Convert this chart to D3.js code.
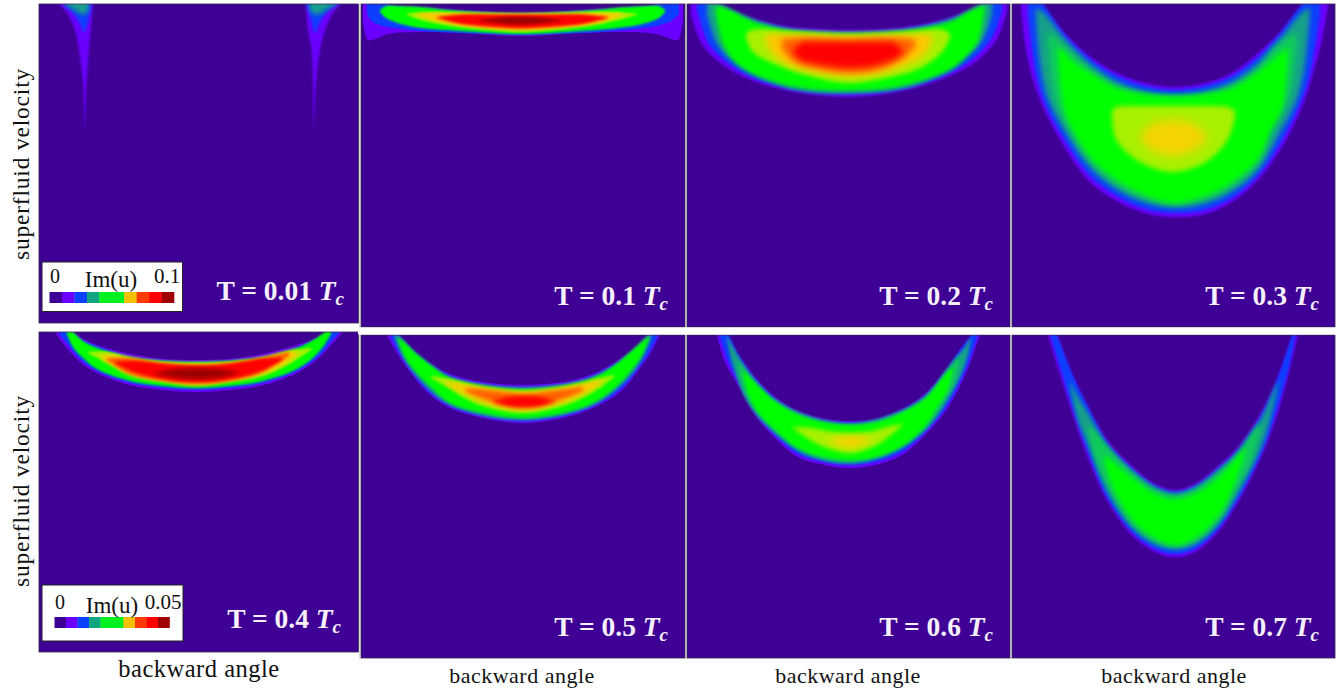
<!DOCTYPE html>
<html lang="en">
<head>
    <meta charset="UTF-8">
    <title>Im(u) maps</title>
    <script src="https://d3js.org/d3.v7.min.js"></script>
    <style>
        html, body { margin: 0; padding: 0; background: #fff; }
        text { font-family: "Liberation Serif", serif; }
    </style>
</head>
<body>
<svg id="main" width="1341" height="690"></svg>
<script>
    // contour rows are [angle, upper velocity, lower velocity], in grid cells of the panel
    const t001Violet = [[19,-8,-1],[28,-8,9],[36,-8,26],[40,-8,46],[44,-8,79],[46,-8,124],[47.5,-8,79],[50,-8,46],[52,-8,23],[54,-8,1]];
    const t001VioletR = [[267,-8,6],[269,-8,26],[272.5,-8,46],[274,-8,79],[275,-8,124],[277,-8,79],[281,-8,46],[286,-8,26],[294,-8,9],[301,-8,1]];
    const t001Blue = [[24,-8,0],[33,-8,8],[40,-8,18],[45,-8,28],[49,-8,18],[52,-8,2]];
    const t001BlueR = [[268,-8,2],[272,-8,16],[276,-8,29],[281,-8,18],[288,-8,8],[298,-8,0]];
    const t001Teal = [[26,-8,0],[34,-8,5],[42,-8,10],[48,-8,9],[50,-8,1]];
    const t001TealR = [[270,-8,1],[273,-8,9],[280,-8,10],[290,-8,4],[298,-8,0]];

    const t01Violet = [[2,-12,15],[7,-12,36],[14,-10,35],[27,0,30],[60,3,28],[100,6,29],[159,8.5,32],[220,6,29],[265,3,28],[295,0,30],[310,-10,35],[317,-12,36],[322,-12,15]];
    const t01Blue = [[6,-2,10],[12,-2,18],[27,1,23],[60,4,27],[100,7,29],[159,9,31],[220,7,29],[265,4,26],[295,1,22],[310,-2,17],[318,-2,10]];
    const t01Green = [[19,6,8],[25,2,14],[40,2,20],[60,3,24],[100,7,27],[159,9.5,30],[220,7,27],[265,3,23],[285,2,19],[298,2,14],[304,6,8]];
    const t01Lime = [[45,10,10.5],[60,8,16],[90,8,22],[130,9,26],[159,9.5,28],[190,9,26],[228,8,22],[258,8,16],[277,10,10.5]];
    const t01Gold = [[56,10,11],[80,9,18],[120,10,24],[159,10,26],[200,10,24],[240,9,18],[262,10,11]];
    const t01Red = [[76,13,14],[100,10.5,20],[130,10.5,23],[159,10.5,24.5],[190,10.5,23],[222,10.5,20],[247,13,14]];
    const t01Dark = [[118,16,17],[140,13.5,19.5],[159,13,20.5],[178,13.5,19.5],[200,16,17]];

    const t02Violet = [[4,-12,10],[15,-8,40],[36,2,61],[64,14,76],[98,22,86],[131,25,91],[161,26,93],[198,25,90],[231,21,83],[265,13,71],[291,2,56],[311,-6,33],[320,-10,6]];
    const t02Blue = [[10,-8,5],[22,-3,40],[42,6,60],[66,16,74],[98,24,84],[131,27,89],[161,28,90],[198,27,88],[231,23,81],[265,15,68],[288,6,53],[306,-3,32],[315,-8,5]];
    const t02Teal = [[20,-8,10],[30,-2,40],[46,8,57],[98,25,83],[161,29,89],[231,24,80],[282,8,50],[296,-2,35],[305,-8,10]];
    const t02Green = [[28,2,4],[36,3,40],[48,8,58],[68,18,71],[98,26,81],[131,29,86],[161,30,87],[198,29,85],[231,25,78],[265,17,65],[280,8,52],[291,3,38],[298,2,4]];
    const t02Lime = [[59,30,33],[66,25.5,48],[98,27,64],[131,29,74],[161,30,79],[198,29,74],[231,27,65],[255,25.5,48],[263,30,33]];
    const t02Gold = [[78,32,36],[86,30,50],[100,31,60],[131,32,68],[161,33,72],[198,32,68],[225,31,58],[238,30,50],[245,32,36]];
    const t02Orange = [[95,35,45],[108,34,58],[131,34,65],[161,35,69],[190,34,66],[215,34,55],[228,36,43]];
    const t02Red = [[106,47,49],[114,39,56],[135,38,61],[161,38,64],[185,38,62],[207,39,55],[216,47,49]];

    const t03Violet = [[9,-28,1],[13,-23,40],[21,-13,76],[31,1,103],[50,26,139],[76,51,176],[103,68,196],[133,79,209],[161,83,213],[193,79,210],[220,69,198],[246,49,176],[270,26,143],[290,1,103],[301,-14,69],[310,-25,36],[316,-32,1]];
    const t03Blue = [[16,-20,12],[24,-8,70],[33,3,100],[52,30,135],[78,55,172],[105,72,192],[133,82,205],[161,86,209],[193,82,206],[220,72,194],[246,53,172],[268,30,140],[288,3,100],[298,-8,70],[308,-20,12]];
    const t03Teal = [[24,4,8],[28,6,60],[36,14,95],[55,38,130],[80,62,165],[105,78,185],[133,88,198],[161,92,203],[193,88,199],[220,78,187],[246,60,165],[266,38,132],[285,14,95],[293,6,60],[298,4,8]];
    const t03Sea = [[36,28,40],[42,32,90],[55,44,122],[80,66,160],[105,82,181],[133,90,195],[161,92,201],[193,90,196],[220,82,183],[246,64,160],[262,44,122],[278,32,90],[285,28,40]];
    const t03Green = [[46,44,50],[52,48,105],[62,58,128],[80,70,155],[105,84,176],[133,90,191],[161,92,199],[193,90,192],[220,84,178],[246,68,155],[258,58,128],[270,48,105],[276,44,50]];
    const t03Lime = [[100,107,112],[104,103,135],[125,102,156],[161,102,168],[195,102,157],[216,103,135],[223,107,112]];
    const t03Straw = [[128,133,134],[140,120,146],[161,116,152],[182,120,146],[196,133,134]];

    const t04Violet = [[16,-14,0],[28,-5,16],[41,5,30],[58,13,41],[91,22,53],[124,27,58],[158,28,60],[191,27,58],[224,22,53],[258,13,41],[281,4,25],[292,-4,13],[303,-12,1]];
    const t04Blue = [[20,-10,1],[30,-3,14],[42,7,28],[58,14,39],[91,24,51],[124,28,56],[158,29,58],[191,28,56],[224,24,51],[258,15,39],[280,5,24],[292,-3,10],[300,-10,1]];
    const t04Green = [[28,-4,2],[34,0,15],[44,9,26],[58,16,37],[91,25,49],[124,29,54],[158,30,56],[191,29,54],[224,25,49],[258,16,37],[276,7,24],[286,0,12],[292,-4,2]];
    const t04Lime = [[49,20,21],[70,20,32],[91,26,44],[124,30,50],[158,31,53],[191,30,50],[224,26,44],[250,19,32],[272,16,18]];
    const t04Gold = [[62,23,26],[80,24,36],[100,28,43],[124,31,48],[158,32,53],[191,31,48],[220,27,42],[240,22,35],[258,18,23]];
    const t04Orange = [[68,26,28],[90,26,42],[124,31,49],[158,33,52],[191,31,49],[222,26,41],[250,20,24]];
    const t04Red = [[76,30,31],[95,29,40],[124,32,47],[158,34,50],[191,32,47],[222,27,39],[243,26,28]];
    const t04Dark = [[115,41,42],[138,37,46],[158,36,47],[178,37,46],[200,40,41]];

    const t05Violet = [[26,-14,0],[36,-2,18],[49,12,37],[66,26,57],[89,39,73],[122,47,83],[162,50,88],[202,47,83],[232,39,73],[259,24,57],[279,9,33],[289,-1,19],[299,-14,0]];
    const t05Blue = [[30,-9,2],[38,1,17],[50,14,35],[66,27,55],[89,41,71],[122,49,81],[162,52,86],[202,49,81],[232,41,71],[259,26,55],[278,11,32],[288,1,18],[296,-9,2]];
    const t05Teal = [[34,-2,3],[42,5,22],[56,21,42],[89,42,70],[162,53,85],[232,42,70],[268,20,42],[282,5,22],[290,-2,3]];
    const t05Green = [[37,2,4],[44,8,22],[56,19,38],[70,30,52],[89,43,68],[122,51,78],[162,54,83],[202,51,78],[232,43,68],[255,29,52],[268,18,38],[280,8,22],[288,1,4]];
    const t05Lime = [[70,41,43],[88,44,53],[100,47,61],[122,52,71],[162,56,78],[202,52,71],[225,47,61],[240,43,52],[253,40,42]];
    const t05Gold = [[85,46,49],[100,49,57],[122,53,67],[162,57,75],[202,53,67],[226,48,57],[240,44,48]];
    const t05Orange = [[105,53,57],[135,56,68],[162,59,73],[190,56,68],[222,52,56]];
    const t05Red = [[132,66,67],[148,62,71],[162,61,72],[178,62,71],[193,66,67]];

    const t06Violet = [[30,-18,0],[38,-6,27],[51,19,50],[68,42,80],[88,62,103],[111,76,122],[138,84,130],[163,86,133],[188,84,130],[215,74,120],[238,59,100],[258,36,77],[275,12,47],[285,0,23],[293,-14,0]];
    const t06Blue = [[33,-14,2],[41,-1,26],[52,21,48],[68,44,77],[88,64,100],[111,78,119],[138,86,127],[163,88,130],[188,86,127],[215,76,117],[238,61,97],[258,38,74],[274,14,45],[283,2,24],[290,-10,2]];
    const t06Teal = [[40,1,4],[46,12,30],[60,35,65],[88,65,98],[120,81,120],[163,89,128],[205,80,118],[238,62,95],[262,32,62],[278,12,30],[284,2,4]];
    const t06Sea = [[50,24,26],[56,32,52],[68,48,76],[88,66,96],[120,82,118],[163,90,127],[205,81,116],[238,63,93],[256,42,68],[268,26,46],[274,20,22]];
    const t06Green = [[56,36,38],[62,42,60],[72,52,78],[88,67,94],[111,80,113],[138,88,122],[163,90,125],[188,88,122],[215,78,111],[238,64,91],[250,50,72],[260,38,56],[266,32,34]];
    const t06Lime = [[106,92,93],[125,93,106],[140,96,113],[163,98,118],[186,96,112],[200,92,103],[216,89,90]];
    const t06Straw = [[140,105,106],[163,101,113],[186,104,105]];

    const t07Violet = [[36,-24,0],[46,3,33],[60,39,77],[76,72,123],[96,106,167],[120,131,200],[143,149,217],[163,155,222],[183,149,217],[206,131,197],[226,112,167],[250,76,120],[266,42,77],[278,8,33],[286,-12,0]];
    const t07Blue = [[39,-14,2],[48,8,32],[61,41,74],[77,74,120],[96,109,164],[120,134,197],[143,151,214],[163,157,219],[183,151,214],[206,134,194],[226,115,164],[250,79,117],[265,45,74],[277,10,32],[283,-8,2]];
    const t07Teal = [[58,46,50],[66,62,85],[77,80,112],[96,112,158],[120,136,192],[143,153,209],[163,159,214],[183,153,209],[206,136,189],[226,117,158],[250,82,110],[258,64,85],[266,46,50]];
    const t07Sea = [[76,90,95],[84,98,125],[96,112,152],[120,137,190],[143,154,207],[163,160,212],[183,154,207],[206,137,187],[226,118,152],[240,98,125],[248,88,95]];
    const t07Green = [[92,120,122],[100,126,150],[120,143,184],[143,159,203],[163,164,210],[183,159,203],[206,143,181],[222,126,150],[234,112,114]];

    const tempLabels = ['0.01', '0.1', '0.2', '0.3', '0.4', '0.5', '0.6', '0.7'];
    const contourSets = [
        [['violet',t001Violet],['violet',t001VioletR],['blue',t001Blue],['blue',t001BlueR],['teal',t001Teal],['teal',t001TealR]],
        [['violet',t01Violet],['blue',t01Blue],['green',t01Green],['lime',t01Lime],['gold',t01Gold],['red',t01Red],['dark',t01Dark]],
        [['violet',t02Violet],['blue',t02Blue],['teal',t02Teal],['green',t02Green],['lime',t02Lime],['gold',t02Gold],['orange',t02Orange],['red',t02Red]],
        [['violet',t03Violet],['blue',t03Blue],['teal',t03Teal],['sea',t03Sea],['green',t03Green],['lime',t03Lime],['straw',t03Straw]],
        [['violet',t04Violet],['blue',t04Blue],['green',t04Green],['lime',t04Lime],['gold',t04Gold],['orange',t04Orange],['red',t04Red],['dark',t04Dark]],
        [['violet',t05Violet],['blue',t05Blue],['teal',t05Teal],['green',t05Green],['lime',t05Lime],['gold',t05Gold],['orange',t05Orange],['red',t05Red]],
        [['violet',t06Violet],['blue',t06Blue],['teal',t06Teal],['sea',t06Sea],['green',t06Green],['lime',t06Lime],['straw',t06Straw]],
        [['violet',t07Violet],['blue',t07Blue],['teal',t07Teal],['sea',t07Sea],['green',t07Green]]
    ];
    const legendColors = ['#3f0095','#6a00ff','#0a40ff','#10a580','#00f020','#00f020','#f5c000','#ff3a00','#ff0000','#a00000'];

    // layout and colours
    const levelColor = {violet:'#6a00ff', blue:'#0a3cff', teal:'#14a088', sea:'#08cc5a', green:'#00ff00', lime:'#a8f000', straw:'#f4d400', gold:'#ffc800', orange:'#ff6000', red:'#ff0000', dark:'#9c0000'};
    const levelBlur = {violet:0.8, blue:1.2, teal:2, sea:2.5, green:2, lime:2.2, straw:3.5, gold:3.5, orange:3, red:3, dark:3.5};
    const boxes = [
        {x:39, y:4, w:319.5, h:319, blur:1.3, tx:344, ty:300},
        {x:361, y:4, w:324, h:323, blur:0.5, tx:668, ty:305},
        {x:687, y:4, w:323, h:323, blur:1, tx:993, ty:305},
        {x:1012, y:4, w:323, h:323, blur:1.3, tx:1319, ty:305},
        {x:39, y:332, w:319.5, h:320, blur:0.55, tx:341, ty:628},
        {x:361, y:335, w:324, h:323, blur:0.7, tx:668, ty:636},
        {x:687, y:335, w:323, h:323, blur:0.9, tx:993, ty:636},
        {x:1012, y:335, w:323, h:323, blur:1, tx:1319, ty:636}
    ];

    let svg = d3.select('svg');
    let defs = svg.append('defs');

    let area = d3.area()
        .curve(d3.curveCatmullRom);

    boxes.forEach(function (b, i) {
        let xScale = d3.scaleLinear().domain([0, b.w]).range([b.x, b.x + b.w]);
        let yScale = d3.scaleLinear().domain([0, b.h]).range([b.y, b.y + b.h]);
        area.x(function (d) { return xScale(d[0]); })
            .y0(function (d) { return yScale(d[1]); })
            .y1(function (d) { return yScale(d[2]); });

        defs.append('clipPath').attr('id', 'clip' + i)
            .append('rect').attr('x', b.x).attr('y', b.y).attr('width', b.w).attr('height', b.h);
        let g = svg.append('g').attr('clip-path', 'url(#clip' + i + ')');
        g.append('rect').attr('x', b.x).attr('y', b.y).attr('width', b.w).attr('height', b.h)
            .attr('fill', '#3f0095');

        contourSets[i].forEach(function (c, j) {
            let fid = 'blur' + i + '_' + j;
            defs.append('filter').attr('id', fid)
                .attr('filterUnits', 'userSpaceOnUse')
                .attr('x', b.x - 20).attr('y', b.y - 20).attr('width', b.w + 40).attr('height', b.h + 40)
                .append('feGaussianBlur').attr('stdDeviation', levelBlur[c[0]] * b.blur);
            g.append('path')
                .attr('d', area(c[1]))
                .attr('fill', levelColor[c[0]])
                .attr('filter', 'url(#' + fid + ')');
        });

        svg.append('rect').attr('x', b.x).attr('y', b.y).attr('width', b.w).attr('height', b.h)
            .attr('fill', 'none').attr('stroke', '#33264f').attr('stroke-width', 0.8);

        // T label
        let t = svg.append('text')
            .attr('x', b.tx).attr('y', b.ty)
            .attr('text-anchor', 'end')
            .attr('fill', '#f6f0fb')
            .attr('font-size', 27.5)
            .attr('font-weight', 'bold');
        t.append('tspan').text('T = ' + tempLabels[i] + ' ');
        t.append('tspan').attr('font-style', 'italic').text('T');
        t.append('tspan').attr('font-style', 'italic').attr('font-size', 19).attr('dy', 5).text('c');
    });

    // separators between panels
    [360, 686, 1011].forEach(function (x) {
        svg.append('line').attr('x1', x).attr('x2', x).attr('y1', 4).attr('y2', 659)
            .attr('stroke', '#b5b5b5').attr('stroke-width', 1);
    });
    svg.append('rect').attr('x', 358).attr('y', 327.5).attr('width', 983).attr('height', 7).attr('fill', '#fff');

    // legends
    function legend(box, bar, labels) {
        svg.append('rect').attr('x', box.x).attr('y', box.y).attr('width', box.w).attr('height', box.h)
            .attr('fill', '#fff').attr('stroke', '#222').attr('stroke-width', 1);
        let band = d3.scaleBand().domain(d3.range(legendColors.length)).range([bar.x, bar.x + bar.w]);
        svg.selectAll(null)
            .data(legendColors)
            .enter()
            .append('rect')
            .attr('x', function (d, i) { return band(i); })
            .attr('y', bar.y)
            .attr('width', band.bandwidth() + 0.3)
            .attr('height', bar.h)
            .attr('fill', function (d) { return d; });
        labels.forEach(function (l) {
            svg.append('text').attr('x', l.x).attr('y', l.y).attr('text-anchor', 'middle')
                .attr('font-size', l.size).attr('fill', '#111').text(l.s);
        });
    }
    legend({x:42, y:262, w:140.5, h:49.5}, {x:49.5, y:292, w:124.5, h:11},
        [{s:'0', x:55, y:283, size:20}, {s:'Im(u)', x:111, y:287, size:23}, {s:'0.1', x:167, y:283, size:21}]);
    legend({x:42, y:585, w:141, h:56}, {x:54.5, y:617, w:115, h:11},
        [{s:'0', x:60, y:609, size:20}, {s:'Im(u)', x:112, y:613, size:23}, {s:'0.05', x:163, y:609, size:21}]);

    // axis titles
    [[21, 164], [21, 491]].forEach(function (p) {
        svg.append('text').attr('transform', 'translate(' + p[0] + ',' + p[1] + ') rotate(-90)')
            .attr('dy', '0.35em').attr('text-anchor', 'middle')
            .attr('font-size', 23.5).attr('letter-spacing', 0.8).attr('fill', '#111').text('superfluid velocity');
    });
    [[199, 677, 24.5], [522, 683, 22], [848, 683, 22], [1174, 683, 22]].forEach(function (p) {
        svg.append('text').attr('x', p[0]).attr('y', p[1]).attr('text-anchor', 'middle')
            .attr('font-size', p[2]).attr('letter-spacing', 0.5).attr('fill', '#111').text('backward angle');
    });
</script>
</body>
</html>
